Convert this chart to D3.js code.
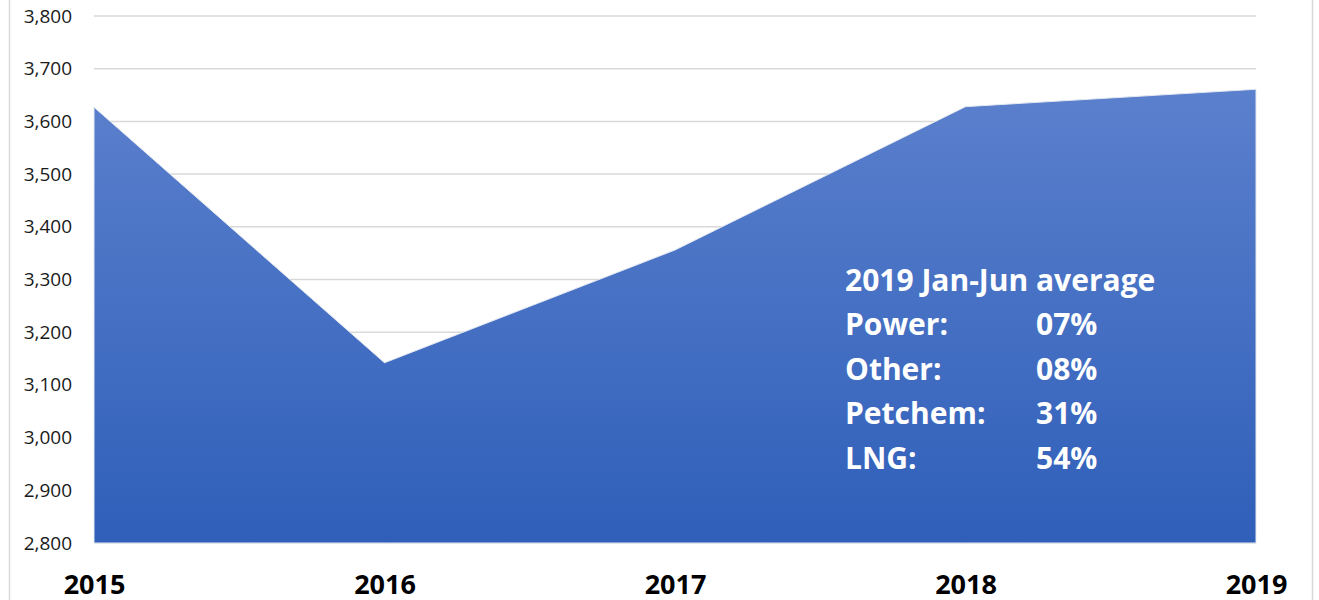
<!DOCTYPE html>
<html>
<head>
<meta charset="utf-8">
<script src="https://cdn.jsdelivr.net/npm/d3@7"></script>
<style>
  body { margin: 0; background: #fff; }
  svg { display: block; }
</style>
</head>
<body>
<div id="chart"></div>
<script>
// Data
const years = ['2015', '2016', '2017', '2018', '2019'];
const values = [3627, 3142, 3356, 3628, 3661];
const yTicks = [2800, 2900, 3000, 3100, 3200, 3300, 3400, 3500, 3600, 3700, 3800];
const noteTitle = '2019 Jan-Jun average';
const noteLabels = ['Power:', 'Other:', 'Petchem:', 'LNG:'];
const noteValues = ['07%', '08%', '31%', '54%'];

const width = 1319, height = 600;
const margin = { top: 16, right: 63, bottom: 57, left: 94 };

const svg = d3.select('#chart').append('svg')
    .attr('width', width)
    .attr('height', height);

// frame lines at both sides
svg.append('line').attr('x1', 9.5).attr('x2', 9.5).attr('y1', 0).attr('y2', height)
    .attr('stroke', '#d9d9d9').attr('stroke-width', 1.5);
svg.append('line').attr('x1', 1312.5).attr('x2', 1312.5).attr('y1', 0).attr('y2', height)
    .attr('stroke', '#d9d9d9').attr('stroke-width', 1.5);

const x = d3.scalePoint()
    .domain(years)
    .range([margin.left, width - margin.right]);

const y = d3.scaleLinear()
    .domain([2800, 3800])
    .range([height - margin.bottom, margin.top]);

// gradient for the area
const defs = svg.append('defs');
const grad = defs.append('linearGradient')
    .attr('id', 'areaFill')
    .attr('x1', 0).attr('x2', 0).attr('y1', 0).attr('y2', 1);
grad.append('stop').attr('offset', '0%').attr('stop-color', '#5b80cd');
grad.append('stop').attr('offset', '100%').attr('stop-color', '#2f5fb9');

// -------- Grid --------
svg.append('g')
    .selectAll('line')
    .data(yTicks)
    .join('line')
    .attr('x1', x.range()[0])
    .attr('x2', x.range()[1])
    .attr('y1', d => y(d))
    .attr('y2', d => y(d))
    .attr('stroke', '#d9d9d9')
    .attr('stroke-width', 1.5);

// -------- Area --------
const area = d3.area()
    .x((d, i) => x(years[i]))
    .y0(y(2800))
    .y1(d => y(d));

svg.append('path')
    .datum(values)
    .attr('d', area)
    .attr('fill', 'url(#areaFill)')
    .attr('stroke', '#e4e8f0')
    .attr('stroke-width', 1);

// -------- Y axis --------
const yAxis = svg.append('g')
    .attr('transform', `translate(${margin.left - 22},0)`)
    .call(d3.axisLeft(y).tickValues(yTicks).tickSize(0).tickFormat(d3.format(',')));
yAxis.select('.domain').remove();
yAxis.selectAll('text')
    .attr('x', 0)
    .attr('fill', '#1a1a1a')
    .style('font-family', '"Open Sans", sans-serif')
    .style('font-size', '19px');

// -------- X axis --------
const xAxis = svg.append('g')
    .attr('transform', `translate(0,${height - margin.bottom})`)
    .call(d3.axisBottom(x).tickSize(0));
xAxis.select('.domain').remove();
xAxis.selectAll('text')
    .attr('y', 0)
    .attr('dy', 0)
    .attr('transform', 'translate(0,51)')
    .attr('fill', '#000')
    .style('font-family', '"Open Sans", sans-serif')
    .style('font-weight', 700)
    .style('font-size', '27px');

// -------- Note text --------
const note = svg.append('g')
    .attr('fill', '#fff')
    .style('font-family', '"Open Sans", sans-serif')
    .style('font-weight', 700)
    .style('font-size', '30px');

note.append('text').attr('x', 845).attr('y', 291).text(noteTitle);
note.selectAll('text.lab')
    .data(noteLabels)
    .join('text')
    .attr('class', 'lab')
    .attr('x', 845)
    .attr('y', (d, i) => 335 + i * 44.5)
    .text(d => d);
note.selectAll('text.val')
    .data(noteValues)
    .join('text')
    .attr('class', 'val')
    .attr('x', 1036)
    .attr('y', (d, i) => 335 + i * 44.5)
    .text(d => d);
</script>
</body>
</html>
